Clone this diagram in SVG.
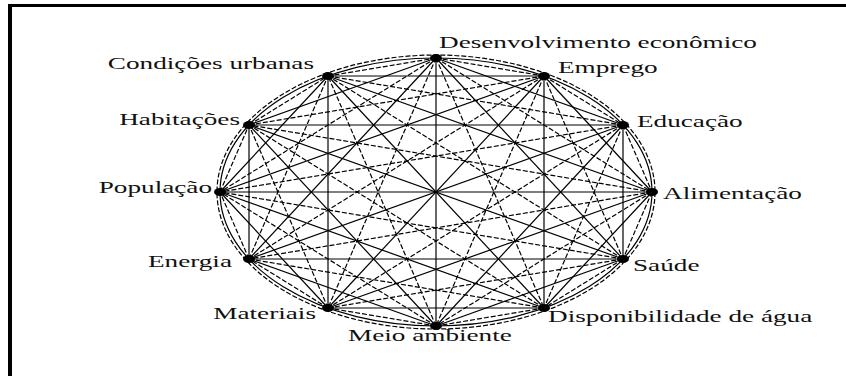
<svg xmlns="http://www.w3.org/2000/svg" width="846" height="376" viewBox="0 0 846 376">
<style>
.lbl{font-family:"Liberation Serif","Times New Roman",serif;font-size:17px;fill:#111}
.r{text-anchor:end}
.s{stroke:#000;stroke-width:1.2;fill:none}
.d{stroke:#000;stroke-width:1.2;fill:none;stroke-dasharray:5 2}
.hub{fill:#000}
</style>
<rect x="0" y="0" width="846" height="376" fill="#fff"/>
<rect x="8" y="4" width="4" height="372" fill="#000"/>
<rect x="8" y="4" width="838" height="3" fill="#000"/>
<g id="connectors">
<ellipse class="s" cx="436" cy="192" rx="216" ry="134"/>
<ellipse class="d" cx="436" cy="192" rx="219" ry="137"/>
<line class="d" x1="436" y1="58" x2="544" y2="76"/>
<line class="s" x1="436" y1="58" x2="623" y2="125"/>
<line class="d" x1="436" y1="58" x2="652" y2="192"/>
<line class="s" x1="436" y1="58" x2="623" y2="259"/>
<line class="d" x1="436" y1="58" x2="544" y2="308"/>
<line class="s" x1="436" y1="58" x2="436" y2="326"/>
<line class="d" x1="436" y1="58" x2="328" y2="308"/>
<line class="s" x1="436" y1="58" x2="249" y2="259"/>
<line class="d" x1="436" y1="58" x2="220" y2="192"/>
<line class="s" x1="436" y1="58" x2="249" y2="125"/>
<line class="d" x1="436" y1="58" x2="328" y2="76"/>
<line class="d" x1="544" y1="76" x2="623" y2="125"/>
<line class="s" x1="544" y1="76" x2="652" y2="192"/>
<line class="d" x1="544" y1="76" x2="623" y2="259"/>
<line class="s" x1="544" y1="76" x2="544" y2="308"/>
<line class="d" x1="544" y1="76" x2="436" y2="326"/>
<line class="s" x1="544" y1="76" x2="328" y2="308"/>
<line class="d" x1="544" y1="76" x2="249" y2="259"/>
<line class="s" x1="544" y1="76" x2="220" y2="192"/>
<line class="d" x1="544" y1="76" x2="249" y2="125"/>
<line class="s" x1="544" y1="76" x2="328" y2="76"/>
<line class="d" x1="623" y1="125" x2="652" y2="192"/>
<line class="s" x1="623" y1="125" x2="623" y2="259"/>
<line class="d" x1="623" y1="125" x2="544" y2="308"/>
<line class="s" x1="623" y1="125" x2="436" y2="326"/>
<line class="d" x1="623" y1="125" x2="328" y2="308"/>
<line class="s" x1="623" y1="125" x2="249" y2="259"/>
<line class="d" x1="623" y1="125" x2="220" y2="192"/>
<line class="s" x1="623" y1="125" x2="249" y2="125"/>
<line class="d" x1="623" y1="125" x2="328" y2="76"/>
<line class="d" x1="652" y1="192" x2="623" y2="259"/>
<line class="s" x1="652" y1="192" x2="544" y2="308"/>
<line class="d" x1="652" y1="192" x2="436" y2="326"/>
<line class="s" x1="652" y1="192" x2="328" y2="308"/>
<line class="d" x1="652" y1="192" x2="249" y2="259"/>
<line class="s" x1="652" y1="192" x2="220" y2="192"/>
<line class="d" x1="652" y1="192" x2="249" y2="125"/>
<line class="s" x1="652" y1="192" x2="328" y2="76"/>
<line class="d" x1="623" y1="259" x2="544" y2="308"/>
<line class="s" x1="623" y1="259" x2="436" y2="326"/>
<line class="d" x1="623" y1="259" x2="328" y2="308"/>
<line class="s" x1="623" y1="259" x2="249" y2="259"/>
<line class="d" x1="623" y1="259" x2="220" y2="192"/>
<line class="s" x1="623" y1="259" x2="249" y2="125"/>
<line class="d" x1="623" y1="259" x2="328" y2="76"/>
<line class="d" x1="544" y1="308" x2="436" y2="326"/>
<line class="s" x1="544" y1="308" x2="328" y2="308"/>
<line class="d" x1="544" y1="308" x2="249" y2="259"/>
<line class="s" x1="544" y1="308" x2="220" y2="192"/>
<line class="d" x1="544" y1="308" x2="249" y2="125"/>
<line class="s" x1="544" y1="308" x2="328" y2="76"/>
<line class="d" x1="436" y1="326" x2="328" y2="308"/>
<line class="s" x1="436" y1="326" x2="249" y2="259"/>
<line class="d" x1="436" y1="326" x2="220" y2="192"/>
<line class="s" x1="436" y1="326" x2="249" y2="125"/>
<line class="d" x1="436" y1="326" x2="328" y2="76"/>
<line class="d" x1="328" y1="308" x2="249" y2="259"/>
<line class="s" x1="328" y1="308" x2="220" y2="192"/>
<line class="d" x1="328" y1="308" x2="249" y2="125"/>
<line class="s" x1="328" y1="308" x2="328" y2="76"/>
<line class="d" x1="249" y1="259" x2="220" y2="192"/>
<line class="s" x1="249" y1="259" x2="249" y2="125"/>
<line class="d" x1="249" y1="259" x2="328" y2="76"/>
<line class="d" x1="220" y1="192" x2="249" y2="125"/>
<line class="s" x1="220" y1="192" x2="328" y2="76"/>
<line class="d" x1="249" y1="125" x2="328" y2="76"/>
</g>
<g id="n-desenvolvimento"><ellipse class="hub" cx="436" cy="58" rx="6" ry="4"/><text class="lbl" transform="translate(439,48) scale(1.6,1)">Desenvolvimento econômico</text></g>
<g id="n-emprego"><ellipse class="hub" cx="544" cy="76" rx="6" ry="4"/><text class="lbl" transform="translate(558,73) scale(1.6,1)">Emprego</text></g>
<g id="n-educacao"><ellipse class="hub" cx="623" cy="125" rx="6" ry="4"/><text class="lbl" transform="translate(637,127) scale(1.6,1)">Educação</text></g>
<g id="n-alimentacao"><ellipse class="hub" cx="652" cy="192" rx="6" ry="4"/><text class="lbl" transform="translate(663,199) scale(1.6,1)">Alimentação</text></g>
<g id="n-saude"><ellipse class="hub" cx="623" cy="259" rx="6" ry="4"/><text class="lbl" transform="translate(633,271) scale(1.6,1)">Saúde</text></g>
<g id="n-agua"><ellipse class="hub" cx="544" cy="308" rx="6" ry="4"/><text class="lbl" transform="translate(548,322) scale(1.6,1)">Disponibilidade de água</text></g>
<g id="n-meio"><ellipse class="hub" cx="436" cy="326" rx="6" ry="4"/><text class="lbl" transform="translate(348,341) scale(1.6,1)">Meio ambiente</text></g>
<g id="n-materiais"><ellipse class="hub" cx="328" cy="308" rx="6" ry="4"/><text class="lbl r" transform="translate(316,319) scale(1.6,1)">Materiais</text></g>
<g id="n-energia"><ellipse class="hub" cx="249" cy="259" rx="6" ry="4"/><text class="lbl r" transform="translate(232,267) scale(1.6,1)">Energia</text></g>
<g id="n-populacao"><ellipse class="hub" cx="220" cy="192" rx="6" ry="4"/><text class="lbl r" transform="translate(212,193) scale(1.6,1)">População</text></g>
<g id="n-habitacoes"><ellipse class="hub" cx="249" cy="125" rx="6" ry="4"/><text class="lbl r" transform="translate(240,125) scale(1.6,1)">Habitações</text></g>
<g id="n-condicoes"><ellipse class="hub" cx="328" cy="76" rx="6" ry="4"/><text class="lbl r" transform="translate(314,69) scale(1.6,1)">Condições urbanas</text></g>
</svg>
